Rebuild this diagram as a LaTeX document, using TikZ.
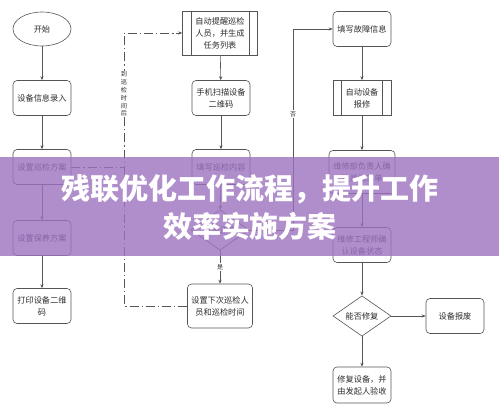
\documentclass[tikz,border=0pt]{standalone}
\usepackage{fontspec}
\setmainfont{Noto Sans CJK SC}
\usetikzlibrary{shapes.geometric,arrows.meta}
\definecolor{lineg}{RGB}{85,85,85}
\definecolor{textg}{RGB}{45,45,45}
\definecolor{bannerc}{RGB}{157,114,192}
\tikzset{
  box/.style={draw=lineg, rounded corners=4pt, minimum width=58pt, minimum height=35pt, align=center, font=\fontsize{8.2}{12}\selectfont, text=textg, inner sep=1pt, line width=0.6pt},
  proc/.style={draw=lineg, minimum width=58pt, minimum height=35pt, align=center, font=\fontsize{8.2}{12}\selectfont, text=textg, inner sep=1pt, line width=0.6pt},
  dia/.style={draw=lineg, diamond, minimum width=58pt, minimum height=32pt, align=center, font=\fontsize{8.2}{12}\selectfont, text=textg, inner sep=0pt, line width=0.6pt},
  startnode/.style={draw=lineg, ellipse, minimum width=58pt, minimum height=34pt, font=\fontsize{8.2}{12}\selectfont, text=textg, line width=0.6pt},
  flow/.style={draw=lineg, line width=0.6pt, -{Stealth[length=4pt,width=3.2pt]}},
  dashflow/.style={draw=lineg, line width=0.6pt, dash pattern=on 9pt off 3pt on 1.2pt off 3pt},
  lbl/.style={fill=white, inner sep=1pt, font=\fontsize{6}{7}\selectfont, text=textg},
  bannertext/.style={text=white, font=\fontsize{29}{34}\selectfont\bfseries}
}
\begin{document}
\begin{tikzpicture}[x=1pt,y=-1pt]
\useasboundingbox (0,0) rectangle (499,415);
\fill[white] (0,0) rectangle (499,415);
% column 1
\node[startnode] (start) at (42,29) {开始};
\node[box] (n1) at (42,98) {设备信息录入};
\node[box] (n2) at (42,167) {设置巡检方案};
\node[box] (n3) at (42,238) {设置保养方案};
\node[box] (n4) at (42,306) {打印设备二维\\码};
% column 2
\node[proc, minimum width=75pt, minimum height=44pt] (m1) at (220,33) {自动提醒巡检\\人员，并生成\\任务列表};
\draw[lineg, line width=0.6pt] ([xshift=9pt]m1.north west) -- ([xshift=9pt]m1.south west);
\draw[lineg, line width=0.6pt] ([xshift=-9pt]m1.north east) -- ([xshift=-9pt]m1.south east);
\node[box] (m2) at (221,98) {手机扫描设备\\二维码};
\node[box] (m3) at (221,167) {填写巡检内容};
\node[dia] (d1) at (220,230) {是否正常};
\node[box, minimum width=65pt, minimum height=44pt] (m4) at (220,306) {设置下次巡检人\\员和巡检时间};
% column 3
\node[box] (r1) at (362,29) {填写故障信息};
\node[proc] (r2) at (362,98) {自动设备\\报修};
\draw[lineg, line width=0.6pt] ([xshift=9pt]r2.north west) -- ([xshift=9pt]r2.south west);
\draw[lineg, line width=0.6pt] ([xshift=-9pt]r2.north east) -- ([xshift=-9pt]r2.south east);
\node[box, minimum width=66pt, minimum height=43pt] (r3) at (362,172) {维修部负责人确\\认并派工单};
\node[box] (r4) at (362,245) {维修工程师确\\认设备状态};
\node[dia, minimum height=35pt] (d2) at (362,316) {能否修复};
\node[box] (r5) at (455,316) {设备报废};
\node[box, minimum height=36pt] (r6) at (362,385) {修复设备，并\\由发起人验收};
% connectors column 1
\draw[flow] (start) -- (n1);
\draw[flow] (n1) -- (n2);
\draw[flow] (n2) -- (n3);
\draw[flow] (n3) -- (n4);
% column 2
\draw[flow] (m1) -- (m2);
\draw[flow] (m2) -- (m3);
\draw[flow] (m3) -- (d1);
\draw[flow] (d1) -- node[lbl] {是} (m4);
% no-branch
\coordinate (nb) at (293,230);
\draw[flow] (d1.east) -- (nb) |- (r1.west);
\node[lbl] (no) at (293,114) {否};
% column 3
\draw[flow] (r1) -- (r2);
\draw[flow] (r2) -- (r3);
\draw[flow] (r3) -- (r4);
\draw[flow] (r4) -- (d2);
\draw[flow] (d2) -- (r6);
\draw[flow] (d2) -- (r5);
% dash-dot loop
\coordinate (lb) at (124,306);
\coordinate (lt) at (124,33);
\coordinate (lm) at (124,167);
\draw[dashflow] (m4.west) -- (lb) -- (lt) -- ([xshift=-2pt]m1.west);
\draw[flow] ([xshift=-6pt]m1.west) -- (m1.west);
\draw[dashflow] (n2.east) -- (lm);
\node[fill=white, inner sep=1pt, align=center, font=\fontsize{6.2}{7.8}\selectfont, text=textg] (tl) at (124,94) {到\\巡\\检\\时\\间\\后};
% banner
\fill[bannerc, opacity=0.8] (0,157) rectangle (499,256);
\node[bannertext] (t1) at (250,189) {残联优化工作流程，提升工作};
\node[bannertext] (t2) at (250,226) {效率实施方案};
\end{tikzpicture}
\end{document}
